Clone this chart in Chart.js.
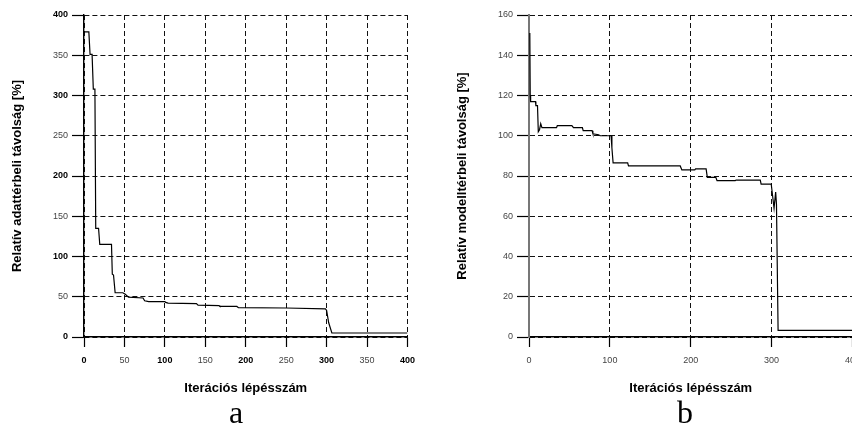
<!DOCTYPE html>
<html>
<head>
<meta charset="utf-8">
<script src="https://cdn.jsdelivr.net/npm/chart.js@4.4.1/dist/chart.umd.min.js"></script>
<style>
  html, body { margin: 0; padding: 0; background: #fff; }
  body { width: 852px; height: 428px; overflow: hidden; position: relative; }
  canvas { position: absolute; top: 0; }
  #chartA { left: 0; }
  #chartB { left: 445px; }
  .panel-label {
    position: absolute; top: 396px; width: 100px; text-align: center;
    font-family: "Liberation Serif", "Times New Roman", serif; font-size: 32px; line-height: 32px; color: #000;
  }
</style>
</head>
<body>
<canvas id="chartA" width="423" height="428"></canvas>
<canvas id="chartB" width="423" height="428"></canvas>
<div class="panel-label" style="left:186px">a</div>
<div class="panel-label" style="left:635px">b</div>
<script>
// (a) relatív adattérbeli távolság
const iterA = [0, 6, 7.5, 10, 11.5, 13.5, 14.5, 18, 19.5, 34, 35, 36.5, 38.5, 48, 51, 55, 73, 75, 80, 100, 101, 104, 139, 141, 167, 168, 189, 191, 250, 298.5, 300, 302.5, 304, 306.5, 400];
const distA = [379, 379, 351, 351, 308, 308, 135, 135, 115, 115, 78, 77, 55, 55, 53, 49.5, 48.5, 45, 44, 44, 43, 42, 41.5, 39.5, 39, 38, 38, 36.5, 36, 35, 33, 18, 13, 5, 5];
const xTicksA = [0, 50, 100, 150, 200, 250, 300, 350, 400];
const yTicksA = [0, 50, 100, 150, 200, 250, 300, 350, 400];

// (b) relatív modelltérbeli távolság
const iterB = [1, 1.5, 2, 8, 8.5, 10.5, 11.5, 13, 14.5, 16, 34, 35, 53, 55, 66, 67, 78, 79, 86, 88, 101.5, 102.5, 104, 122, 123, 187, 189, 205, 206, 219, 220.5, 231, 232.5, 255, 256, 286, 287, 299.5, 303, 305, 306, 308, 400];
const distB = [151, 120, 117, 117, 115, 115, 102, 103, 106, 104, 104, 105, 105, 104, 104, 102.5, 102.5, 101, 100.5, 100, 100, 94, 86.5, 86.5, 85, 85, 83, 83, 83.5, 83.5, 79.3, 79.3, 77.7, 77.7, 78, 78, 76, 76, 64, 72, 66, 3.3, 3.3];
const xTicksB = [0, 100, 200, 300, 400];
const yTicksB = [0, 20, 40, 60, 80, 100, 120, 140, 160];

const FONT = "'Liberation Sans', Arial, Helvetica, sans-serif";
// plot area inside each canvas
const AREA = { top: 15, right: 407 };

function makeChart(id, iters, dists, xTicks, yTicks, yTitle, opt) {
  const points = iters.map((x, i) => ({ x: x, y: dists[i] }));
  const isMajor = (c) => opt.boldMajor && c.tick && c.tick.value % 100 === 0;
  const tickFont = (c) => ({ family: FONT, size: 9, weight: isMajor(c) ? "bold" : "normal" });
  const tickColor = (c) => (isMajor(c) ? "#000" : "#444");

  const chart = new Chart(document.getElementById(id), {
    type: "line",
    data: {
      datasets: [{
        data: points,
        borderColor: "#000",
        borderWidth: 1.2,
        pointRadius: 0,
        fill: false,
        tension: 0
      }]
    },
    options: {
      responsive: false,
      animation: false,
      events: [],
      layout: { padding: { top: 15, right: 0, left: 0, bottom: 0 } },
      plugins: { legend: { display: false }, tooltip: { enabled: false } },
      scales: {
        x: {
          type: "linear",
          min: xTicks[0],
          max: xTicks[xTicks.length - 1],
          afterBuildTicks: (s) => { s.ticks = xTicks.map((v) => ({ value: v })); },
          afterFit: (s) => { s.height = 91; },
          ticks: { autoSkip: false, maxRotation: 0, padding: 8, font: tickFont, color: tickColor },
          grid: { color: "#111", lineWidth: 1, tickLength: 10, tickColor: "#000", tickWidth: 1.2 },
          border: { display: true, color: "#000", width: 1.4, dash: [5, 3] },
          title: {
            display: true,
            text: "Iterációs lépésszám",
            color: "#000",
            font: { family: FONT, size: 13, weight: "bold" },
            padding: { top: 0, bottom: 32 }
          }
        },
        y: {
          min: yTicks[0],
          max: yTicks[yTicks.length - 1],
          afterBuildTicks: (s) => { s.ticks = yTicks.map((v) => ({ value: v })); },
          afterFit: (s) => { s.width = 84; },
          ticks: { autoSkip: false, padding: 4, font: tickFont, color: tickColor },
          grid: { color: "#111", lineWidth: 1, tickLength: 12, tickColor: "#000", tickWidth: 1.2 },
          border: { display: true, color: opt.yAxisColor, width: opt.yAxisWidth, dash: [5, 3] },
          title: {
            display: true,
            text: yTitle,
            color: "#000",
            font: { family: FONT, size: 13, weight: "bold" },
            padding: { top: 10, bottom: 0 }
          }
        }
      }
    }
  });

  // the last tick label reserves room on the right, so size the canvas to put the plot edge where the reference has it
  const dw = Math.round(AREA.right - chart.chartArea.right);
  if (dw !== 0) chart.resize(chart.width + dw, chart.height);
  return chart;
}

makeChart("chartA", iterA, distA, xTicksA, yTicksA, "Relatív adattérbeli távolság [%]",
  { boldMajor: true, yAxisColor: "#000", yAxisWidth: 1.4 });
makeChart("chartB", iterB, distB, xTicksB, yTicksB, "Relatív modelltérbeli távolság [%]",
  { boldMajor: false, yAxisColor: "#777", yAxisWidth: 2 });
</script>
</body>
</html>
